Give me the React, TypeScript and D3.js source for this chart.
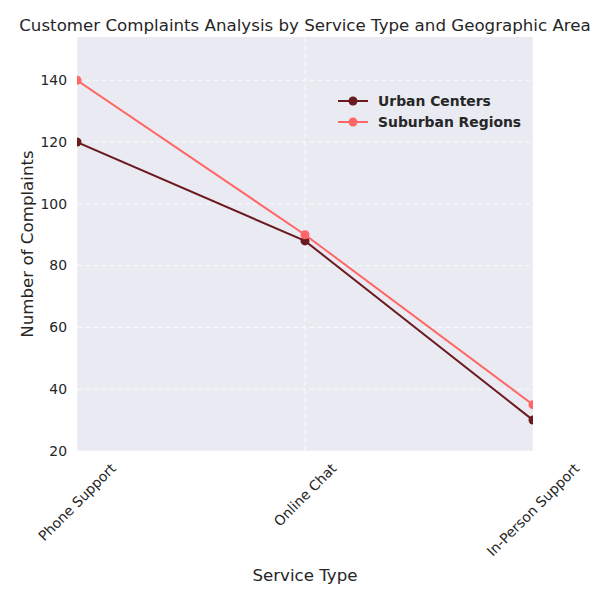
import React, { useEffect, useRef } from 'react'
import * as d3 from 'd3'

const services = ['Phone Support', 'Online Chat', 'In-Person Support']
const urbanCenters = [120, 88, 30]
const suburbanRegions = [140, 90, 35]
const yTicks = [20, 40, 60, 80, 100, 120, 140]

const seriesList = [
    { name: 'Urban Centers', values: urbanCenters, color: '#6b1a1f' },
    { name: 'Suburban Regions', values: suburbanRegions, color: '#ff6666' },
]

const App = () => {
    const ref = useRef<SVGSVGElement>(null)

    useEffect(() => {
        const width = 600
        const height = 600
        const margins = { t: 37, b: 149, l: 77, r: 67 }
        const plotwidth = width - margins.l - margins.r
        const plotheight = height - margins.t - margins.b
        const font = 'DejaVu Sans, sans-serif'
        const textColor = '#262626'
        const tickSize = 13.9
        const labelSize = 16.67

        const svg = d3.select(ref.current)
        svg.selectAll('*').remove()
        svg.attr('width', width).attr('height', height)
            .style('font-family', font)

        const xScale = d3.scalePoint<string>().domain(services).range([0, plotwidth])
        const yScale = d3.scaleLinear().domain([20, 154]).range([plotheight, 0])

        svg.append('defs').append('clipPath').attr('id', 'plot-clip')
            .append('rect').attr('width', plotwidth).attr('height', plotheight)

        const g = svg.append('g').attr('transform', `translate(${margins.l}, ${margins.t})`)

        g.append('rect')
            .attr('width', plotwidth).attr('height', plotheight)
            .attr('fill', '#eaeaf2')

        // grid
        g.selectAll('.hgrid').data(yTicks).join('line')
            .attr('class', 'hgrid')
            .attr('x1', 0).attr('x2', plotwidth)
            .attr('y1', d => yScale(d)).attr('y2', d => yScale(d))
            .attr('stroke', '#ffffff').attr('stroke-width', 1)
            .attr('stroke-dasharray', '5,3').attr('opacity', 0.8)

        g.selectAll('.vgrid').data(services).join('line')
            .attr('class', 'vgrid')
            .attr('x1', d => xScale(d)!).attr('x2', d => xScale(d)!)
            .attr('y1', 0).attr('y2', plotheight)
            .attr('stroke', '#ffffff').attr('stroke-width', 1)
            .attr('stroke-dasharray', '5,3').attr('opacity', 0.8)

        // lines
        const line = d3.line<number>()
            .x((d, i) => xScale(services[i])!)
            .y(d => yScale(d))

        const plot = g.append('g').attr('clip-path', 'url(#plot-clip)')
        seriesList.forEach(s => {
            plot.append('path')
                .datum(s.values)
                .attr('d', line)
                .attr('fill', 'none')
                .attr('stroke', s.color)
                .attr('stroke-width', 2)
            plot.selectAll(null).data(s.values).join('circle')
                .attr('cx', (d, i) => xScale(services[i])!)
                .attr('cy', d => yScale(d))
                .attr('r', 4.5)
                .attr('fill', s.color)
        })

        // y ticks
        g.selectAll('.ytick').data(yTicks).join('text')
            .attr('class', 'ytick')
            .attr('x', -10)
            .attr('y', d => yScale(d))
            .attr('dy', '0.35em')
            .attr('text-anchor', 'end')
            .attr('font-size', tickSize)
            .attr('fill', textColor)
            .text(d => d)

        // x ticks, rotated 45 deg, centred on tick
        const xt = g.selectAll('.xtick').data(services).join('text')
            .attr('class', 'xtick')
            .attr('text-anchor', 'middle')
            .attr('dominant-baseline', 'central')
            .attr('font-size', tickSize)
            .attr('fill', textColor)
            .text(d => d)
        xt.each(function (d) {
            const el = this as SVGTextElement
            const len = el.getComputedTextLength()
            const h = (len + tickSize) * Math.SQRT1_2
            const cx = xScale(d)!
            const cy = plotheight + 10 + h / 2
            d3.select(el).attr('transform', `translate(${cx}, ${cy}) rotate(-45)`)
        })

        // axis labels
        g.append('text')
            .attr('x', plotwidth / 2).attr('y', plotheight + 130)
            .attr('text-anchor', 'middle')
            .attr('font-size', labelSize)
            .attr('fill', textColor)
            .text('Service Type')

        g.append('text')
            .attr('transform', `translate(${-44}, ${plotheight / 2}) rotate(-90)`)
            .attr('text-anchor', 'middle')
            .attr('font-size', labelSize)
            .attr('fill', textColor)
            .text('Number of Complaints')

        // title
        g.append('text')
            .attr('x', plotwidth / 2).attr('y', -6)
            .attr('text-anchor', 'middle')
            .attr('font-size', labelSize)
            .attr('fill', textColor)
            .text('Customer Complaints Analysis by Service Type and Geographic Area')

        // legend
        const legend = g.append('g').attr('transform', `translate(${261}, ${64})`)
        const items = legend.selectAll('g').data(seriesList).join('g')
            .attr('transform', (d, i) => `translate(0, ${i * 21})`)
        items.append('line')
            .attr('x1', 0).attr('x2', 30)
            .attr('stroke', d => d.color).attr('stroke-width', 2)
        items.append('circle')
            .attr('cx', 15).attr('r', 4.5)
            .attr('fill', d => d.color)
        items.append('text')
            .attr('x', 40).attr('dy', '0.35em')
            .attr('font-size', tickSize).attr('font-weight', 'bold')
            .attr('fill', textColor)
            .text(d => d.name)
    }, [])

    return <svg ref={ref} style={{ display: 'block', margin: '-8px' }}></svg>
}

export default App
